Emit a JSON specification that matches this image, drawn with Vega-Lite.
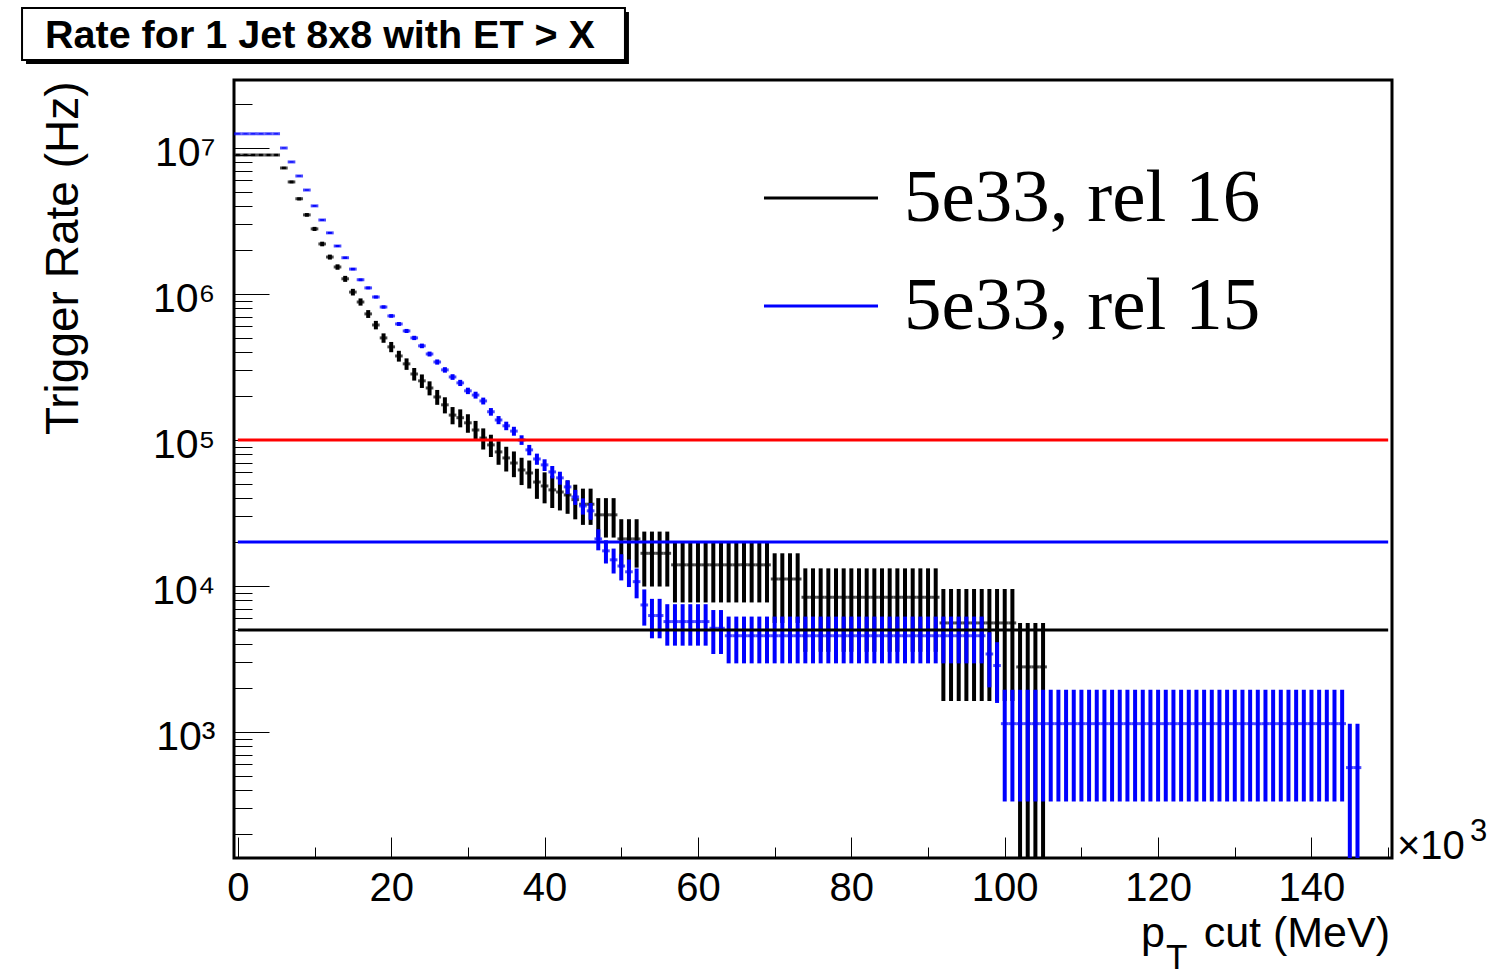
{
  "$schema": "https://vega.github.io/schema/vega-lite/v6.json",
  "width": 1158,
  "height": 778,
  "autosize": {"type": "none"},
  "padding": {"left": 234, "top": 80, "right": 109, "bottom": 119},
  "background": "white",
  "config": {
    "font": "Liberation Sans",
    "view": {"stroke": "black", "strokeWidth": 3},
    "axis": {"domain": false, "grid": false, "tickColor": "black", "tickWidth": 1, "labelColor": "black", "titleColor": "black", "labelFont": "Liberation Sans", "labelFontSize": 41, "titleFont": "Liberation Sans", "titleFontWeight": "normal"},
    "legend": {"orient": "none", "legendX": 528, "legendY": 59, "padding": 0, "symbolType": "stroke", "symbolSize": 13000, "symbolStrokeWidth": 3, "labelFont": "Liberation Serif", "labelFontSize": 75, "labelColor": "black", "labelOffset": 24, "rowPadding": 11, "labelLimit": 0, "title": null}
  },
  "datasets": {
    "r16": [
      {"c":0,"v":8950000,"lo":8790000,"hi":9110000},{"c":1,"v":8950000,"lo":8790000,"hi":9110000},{"c":2,"v":8950000,"lo":8790000,"hi":9110000},{"c":3,"v":8950000,"lo":8790000,"hi":9110000},{"c":4,"v":8950000,"lo":8790000,"hi":9110000},{"c":5,"v":8950000,"lo":8790000,"hi":9110000},
      {"c":6,"v":7300000,"lo":7160000,"hi":7440000},{"c":7,"v":5850000,"lo":5720000,"hi":5980000},{"c":8,"v":4480000,"lo":4370000,"hi":4590000},{"c":9,"v":3480000,"lo":3380000,"hi":3580000},{"c":10,"v":2790000,"lo":2700000,"hi":2880000},
      {"c":11,"v":2200000,"lo":2120000,"hi":2280000},{"c":12,"v":1790000,"lo":1720000,"hi":1860000},{"c":13,"v":1530000,"lo":1465000,"hi":1595000},{"c":14,"v":1270000,"lo":1210000,"hi":1330000},{"c":15,"v":1030000,"lo":976000,"hi":1084000},
      {"c":16,"v":882000,"lo":832000,"hi":932000},{"c":17,"v":730000,"lo":685000,"hi":775000},{"c":18,"v":613000,"lo":572000,"hi":654000},{"c":19,"v":500000,"lo":463000,"hi":537000},{"c":20,"v":434000,"lo":399000,"hi":469000},
      {"c":21,"v":376000,"lo":344000,"hi":408000},{"c":22,"v":332000,"lo":302000,"hi":362000},{"c":23,"v":283000,"lo":255000,"hi":311000},{"c":24,"v":254000,"lo":227000,"hi":281000},{"c":25,"v":227000,"lo":202000,"hi":252000},
      {"c":26,"v":197000,"lo":174000,"hi":220000},{"c":27,"v":174000,"lo":152000,"hi":196000},{"c":28,"v":148000,"lo":128000,"hi":168000},{"c":29,"v":142000,"lo":122000,"hi":162000},{"c":30,"v":131000,"lo":112000,"hi":150000},
      {"c":31,"v":117000,"lo":98900,"hi":135000},{"c":32,"v":103000,"lo":86000,"hi":120000},{"c":33,"v":92500,"lo":76400,"hi":108600},{"c":34,"v":82800,"lo":67600,"hi":98000},{"c":35,"v":75300,"lo":60800,"hi":89800},
      {"c":36,"v":69500,"lo":55600,"hi":83400},{"c":37,"v":62300,"lo":49100,"hi":75500},{"c":38,"v":59400,"lo":46500,"hi":72300},{"c":39,"v":51500,"lo":39500,"hi":63500},{"c":40,"v":48400,"lo":36800,"hi":60000},
      {"c":41,"v":45500,"lo":34200,"hi":56800},{"c":42,"v":44000,"lo":32900,"hi":55100},{"c":43,"v":42000,"lo":31200,"hi":52800},{"c":44,"v":39000,"lo":28600,"hi":49400},{"c":45,"v":36300,"lo":26200,"hi":46400},
      {"c":46,"v":36300,"lo":26200,"hi":46400},{"c":47,"v":30700,"lo":21450,"hi":39950},{"c":48,"v":30700,"lo":21450,"hi":39950},{"c":49,"v":30700,"lo":21450,"hi":39950},
      {"c":50,"v":21000,"lo":13350,"hi":28650},{"c":51,"v":21000,"lo":13350,"hi":28650},{"c":52,"v":21000,"lo":13350,"hi":28650},
      {"c":53,"v":16740,"lo":9910,"hi":23570},{"c":54,"v":16740,"lo":9910,"hi":23570},{"c":55,"v":16740,"lo":9910,"hi":23570},{"c":56,"v":16740,"lo":9910,"hi":23570},
      {"c":57,"v":13950,"lo":7710,"hi":20190},{"c":58,"v":13950,"lo":7710,"hi":20190},{"c":59,"v":13950,"lo":7710,"hi":20190},{"c":60,"v":13950,"lo":7710,"hi":20190},{"c":61,"v":13950,"lo":7710,"hi":20190},{"c":62,"v":13950,"lo":7710,"hi":20190},{"c":63,"v":13950,"lo":7710,"hi":20190},{"c":64,"v":13950,"lo":7710,"hi":20190},{"c":65,"v":13950,"lo":7710,"hi":20190},{"c":66,"v":13950,"lo":7710,"hi":20190},{"c":67,"v":13950,"lo":7710,"hi":20190},{"c":68,"v":13950,"lo":7710,"hi":20190},{"c":69,"v":13950,"lo":7710,"hi":20190},
      {"c":70,"v":11160,"lo":5580,"hi":16740},{"c":71,"v":11160,"lo":5580,"hi":16740},{"c":72,"v":11160,"lo":5580,"hi":16740},{"c":73,"v":11160,"lo":5580,"hi":16740},
      {"c":74,"v":8370,"lo":3540,"hi":13200},{"c":75,"v":8370,"lo":3540,"hi":13200},{"c":76,"v":8370,"lo":3540,"hi":13200},{"c":77,"v":8370,"lo":3540,"hi":13200},{"c":78,"v":8370,"lo":3540,"hi":13200},{"c":79,"v":8370,"lo":3540,"hi":13200},{"c":80,"v":8370,"lo":3540,"hi":13200},{"c":81,"v":8370,"lo":3540,"hi":13200},{"c":82,"v":8370,"lo":3540,"hi":13200},{"c":83,"v":8370,"lo":3540,"hi":13200},{"c":84,"v":8370,"lo":3540,"hi":13200},{"c":85,"v":8370,"lo":3540,"hi":13200},{"c":86,"v":8370,"lo":3540,"hi":13200},{"c":87,"v":8370,"lo":3540,"hi":13200},{"c":88,"v":8370,"lo":3540,"hi":13200},{"c":89,"v":8370,"lo":3540,"hi":13200},{"c":90,"v":8370,"lo":3540,"hi":13200},{"c":91,"v":8370,"lo":3540,"hi":13200},
      {"c":92,"v":5580,"lo":1630,"hi":9530},{"c":93,"v":5580,"lo":1630,"hi":9530},{"c":94,"v":5580,"lo":1630,"hi":9530},{"c":95,"v":5580,"lo":1630,"hi":9530},{"c":96,"v":5580,"lo":1630,"hi":9530},{"c":97,"v":5580,"lo":1630,"hi":9530},{"c":98,"v":5580,"lo":1630,"hi":9530},{"c":99,"v":5580,"lo":1630,"hi":9530},{"c":100,"v":5580,"lo":1630,"hi":9530},{"c":101,"v":5580,"lo":1630,"hi":9530},
      {"c":102,"v":2790,"lo":1,"hi":5580},{"c":103,"v":2790,"lo":1,"hi":5580},{"c":104,"v":2790,"lo":1,"hi":5580},{"c":105,"v":2790,"lo":1,"hi":5580}
    ],
    "r15": [
      {"c":0,"v":12500000,"lo":12416000,"hi":12584000},{"c":1,"v":12500000,"lo":12416000,"hi":12584000},{"c":2,"v":12500000,"lo":12416000,"hi":12584000},{"c":3,"v":12500000,"lo":12416000,"hi":12584000},{"c":4,"v":12500000,"lo":12416000,"hi":12584000},{"c":5,"v":12500000,"lo":12416000,"hi":12584000},
      {"c":6,"v":10000000,"lo":9925000,"hi":10075000},{"c":7,"v":8020000,"lo":7950000,"hi":8090000},{"c":8,"v":6430000,"lo":6370000,"hi":6490000},{"c":9,"v":5150000,"lo":5100000,"hi":5200000},{"c":10,"v":4010000,"lo":3960000,"hi":4060000},
      {"c":11,"v":3210000,"lo":3170000,"hi":3250000},{"c":12,"v":2620000,"lo":2580000,"hi":2660000},{"c":13,"v":2130000,"lo":2095000,"hi":2165000},{"c":14,"v":1770000,"lo":1738000,"hi":1802000},{"c":15,"v":1480000,"lo":1451000,"hi":1509000},
      {"c":16,"v":1250000,"lo":1223000,"hi":1277000},{"c":17,"v":1100000,"lo":1075000,"hi":1125000},{"c":18,"v":953000,"lo":930000,"hi":976000},{"c":19,"v":814000,"lo":793000,"hi":836000},{"c":20,"v":707000,"lo":687000,"hi":727000},
      {"c":21,"v":623000,"lo":604000,"hi":642000},{"c":22,"v":558000,"lo":540000,"hi":576000},{"c":23,"v":500000,"lo":483000,"hi":517000},{"c":24,"v":441000,"lo":425000,"hi":457000},{"c":25,"v":388000,"lo":373000,"hi":403000},
      {"c":26,"v":342000,"lo":328000,"hi":356000},{"c":27,"v":302000,"lo":289000,"hi":315000},{"c":28,"v":270000,"lo":258000,"hi":282000},{"c":29,"v":246000,"lo":234000,"hi":258000},{"c":30,"v":217000,"lo":206000,"hi":228000},
      {"c":31,"v":203000,"lo":192000,"hi":214000},{"c":32,"v":185000,"lo":175000,"hi":195000},{"c":33,"v":156000,"lo":146600,"hi":165400},{"c":34,"v":137000,"lo":128200,"hi":145800},{"c":35,"v":125000,"lo":116600,"hi":133400},
      {"c":36,"v":115000,"lo":106900,"hi":123100},{"c":37,"v":100000,"lo":92500,"hi":107600},{"c":38,"v":85500,"lo":78500,"hi":92500},{"c":39,"v":74100,"lo":67600,"hi":80600},{"c":40,"v":67500,"lo":61300,"hi":73700},
      {"c":41,"v":60400,"lo":54500,"hi":66300},{"c":42,"v":55000,"lo":49400,"hi":60600},{"c":43,"v":47700,"lo":42500,"hi":52900},{"c":44,"v":40700,"lo":35900,"hi":45500},{"c":45,"v":35300,"lo":30800,"hi":39800},
      {"c":46,"v":32700,"lo":28400,"hi":37000},{"c":47,"v":21000,"lo":17540,"hi":24460},{"c":48,"v":17400,"lo":14250,"hi":20550},{"c":49,"v":15100,"lo":12170,"hi":18030},{"c":50,"v":13700,"lo":10910,"hi":16490},
      {"c":51,"v":12500,"lo":9830,"hi":15170},{"c":52,"v":10700,"lo":8230,"hi":13170},{"c":53,"v":7410,"lo":5350,"hi":9470},{"c":54,"v":6270,"lo":4380,"hi":8160},{"c":55,"v":6270,"lo":4380,"hi":8160},
      {"c":56,"v":5700,"lo":3900,"hi":7500},{"c":57,"v":5700,"lo":3900,"hi":7500},{"c":58,"v":5700,"lo":3900,"hi":7500},{"c":59,"v":5700,"lo":3900,"hi":7500},{"c":60,"v":5700,"lo":3900,"hi":7500},{"c":61,"v":5700,"lo":3900,"hi":7500},
      {"c":62,"v":5130,"lo":3420,"hi":6840},{"c":63,"v":5130,"lo":3420,"hi":6840},
      {"c":64,"v":4560,"lo":2950,"hi":6170},{"c":65,"v":4560,"lo":2950,"hi":6170},{"c":66,"v":4560,"lo":2950,"hi":6170},{"c":67,"v":4560,"lo":2950,"hi":6170},{"c":68,"v":4560,"lo":2950,"hi":6170},{"c":69,"v":4560,"lo":2950,"hi":6170},{"c":70,"v":4560,"lo":2950,"hi":6170},{"c":71,"v":4560,"lo":2950,"hi":6170},{"c":72,"v":4560,"lo":2950,"hi":6170},{"c":73,"v":4560,"lo":2950,"hi":6170},{"c":74,"v":4560,"lo":2950,"hi":6170},{"c":75,"v":4560,"lo":2950,"hi":6170},{"c":76,"v":4560,"lo":2950,"hi":6170},{"c":77,"v":4560,"lo":2950,"hi":6170},{"c":78,"v":4560,"lo":2950,"hi":6170},{"c":79,"v":4560,"lo":2950,"hi":6170},{"c":80,"v":4560,"lo":2950,"hi":6170},{"c":81,"v":4560,"lo":2950,"hi":6170},{"c":82,"v":4560,"lo":2950,"hi":6170},{"c":83,"v":4560,"lo":2950,"hi":6170},{"c":84,"v":4560,"lo":2950,"hi":6170},{"c":85,"v":4560,"lo":2950,"hi":6170},{"c":86,"v":4560,"lo":2950,"hi":6170},{"c":87,"v":4560,"lo":2950,"hi":6170},{"c":88,"v":4560,"lo":2950,"hi":6170},{"c":89,"v":4560,"lo":2950,"hi":6170},{"c":90,"v":4560,"lo":2950,"hi":6170},{"c":91,"v":4560,"lo":2950,"hi":6170},{"c":92,"v":4560,"lo":2950,"hi":6170},{"c":93,"v":4560,"lo":2950,"hi":6170},{"c":94,"v":4560,"lo":2950,"hi":6170},{"c":95,"v":4560,"lo":2950,"hi":6170},{"c":96,"v":4560,"lo":2950,"hi":6170},{"c":97,"v":4560,"lo":2950,"hi":6170},
      {"c":98,"v":3420,"lo":2020,"hi":4820},{"c":99,"v":2850,"lo":1580,"hi":4120},
      {"c":100,"v":1140,"lo":334,"hi":1946},{"c":101,"v":1140,"lo":334,"hi":1946},{"c":102,"v":1140,"lo":334,"hi":1946},{"c":103,"v":1140,"lo":334,"hi":1946},{"c":104,"v":1140,"lo":334,"hi":1946},{"c":105,"v":1140,"lo":334,"hi":1946},{"c":106,"v":1140,"lo":334,"hi":1946},{"c":107,"v":1140,"lo":334,"hi":1946},{"c":108,"v":1140,"lo":334,"hi":1946},{"c":109,"v":1140,"lo":334,"hi":1946},
      {"c":110,"v":1140,"lo":334,"hi":1946},{"c":111,"v":1140,"lo":334,"hi":1946},{"c":112,"v":1140,"lo":334,"hi":1946},{"c":113,"v":1140,"lo":334,"hi":1946},{"c":114,"v":1140,"lo":334,"hi":1946},{"c":115,"v":1140,"lo":334,"hi":1946},{"c":116,"v":1140,"lo":334,"hi":1946},{"c":117,"v":1140,"lo":334,"hi":1946},{"c":118,"v":1140,"lo":334,"hi":1946},{"c":119,"v":1140,"lo":334,"hi":1946},
      {"c":120,"v":1140,"lo":334,"hi":1946},{"c":121,"v":1140,"lo":334,"hi":1946},{"c":122,"v":1140,"lo":334,"hi":1946},{"c":123,"v":1140,"lo":334,"hi":1946},{"c":124,"v":1140,"lo":334,"hi":1946},{"c":125,"v":1140,"lo":334,"hi":1946},{"c":126,"v":1140,"lo":334,"hi":1946},{"c":127,"v":1140,"lo":334,"hi":1946},{"c":128,"v":1140,"lo":334,"hi":1946},{"c":129,"v":1140,"lo":334,"hi":1946},
      {"c":130,"v":1140,"lo":334,"hi":1946},{"c":131,"v":1140,"lo":334,"hi":1946},{"c":132,"v":1140,"lo":334,"hi":1946},{"c":133,"v":1140,"lo":334,"hi":1946},{"c":134,"v":1140,"lo":334,"hi":1946},{"c":135,"v":1140,"lo":334,"hi":1946},{"c":136,"v":1140,"lo":334,"hi":1946},{"c":137,"v":1140,"lo":334,"hi":1946},{"c":138,"v":1140,"lo":334,"hi":1946},{"c":139,"v":1140,"lo":334,"hi":1946},
      {"c":140,"v":1140,"lo":334,"hi":1946},{"c":141,"v":1140,"lo":334,"hi":1946},{"c":142,"v":1140,"lo":334,"hi":1946},{"c":143,"v":1140,"lo":334,"hi":1946},{"c":144,"v":1140,"lo":334,"hi":1946},
      {"c":145,"v":570,"lo":1,"hi":1140},{"c":146,"v":570,"lo":1,"hi":1140}
    ]
  },
  "layer": [
    {
      "data": {"name": "r16"},
      "mark": {"type": "rule", "strokeWidth": 4, "clip": true},
      "encoding": {
        "x": {"field": "c", "type": "quantitative", "title": null, "scale": {"domain": [-0.5, 150.5], "nice": false, "zero": false},
              "axis": {"title": null, "values": [0,5,10,15,20,25,30,35,40,45,50,55,60,65,70,75,80,85,90,95,100,105,110,115,120,125,130,135,140,145,150],
                       "labelExpr": "(datum.value % 20 === 0 && datum.value <= 140) ? datum.label : ''",
                       "tickSize": {"condition": {"test": "datum.value % 20 === 0", "value": -21}, "value": -11},
                       "labelPadding": 31, "labelFontSize": 40, "labelFlush": false}},
        "y": {"field": "lo", "type": "quantitative", "title": "Trigger Rate (Hz)", "scale": {"type": "log", "domain": [137, 29200000], "nice": false},
              "axis": {"title": "Trigger Rate (Hz)", "titleFontSize": 46, "titleX": -157, "titleY": 1, "titleAlign": "right", "titleAngle": -90, "titleBaseline": "alphabetic",
                       "values": [200,300,400,500,600,700,800,900,1000,2000,3000,4000,5000,6000,7000,8000,9000,10000,20000,30000,40000,50000,60000,70000,80000,90000,100000,200000,300000,400000,500000,600000,700000,800000,900000,1000000,2000000,3000000,4000000,5000000,6000000,7000000,8000000,9000000,10000000,20000000],
                       "labelExpr": "indexof([1000,10000,100000,1000000,10000000], datum.value) >= 0 ? '10' + ['³','⁴','⁵','⁶','⁷'][indexof([1000,10000,100000,1000000,10000000], datum.value)] : ''",
                       "tickSize": {"condition": {"test": "indexof([1000,10000,100000,1000000,10000000], datum.value) >= 0", "value": -35}, "value": -18},
                       "labelPadding": 54, "labelOffset": 6, "labelFlush": false}},
        "y2": {"field": "hi"},
        "color": {"datum": "5e33, rel 16", "type": "nominal", "scale": {"domain": ["5e33, rel 16", "5e33, rel 15"], "range": ["black", "#0000ff"]}}
      }
    },
    {
      "data": {"name": "r16"},
      "mark": {"type": "tick", "orient": "horizontal", "size": 7.67, "thickness": 3, "color": "black", "clip": true},
      "encoding": {
        "x": {"field": "c", "type": "quantitative", "title": null},
        "y": {"field": "v", "type": "quantitative", "title": "Trigger Rate (Hz)"}
      }
    },
    {
      "data": {"name": "r15"},
      "mark": {"type": "rule", "strokeWidth": 4, "clip": true},
      "encoding": {
        "x": {"field": "c", "type": "quantitative", "title": null},
        "y": {"field": "lo", "type": "quantitative", "title": "Trigger Rate (Hz)"},
        "y2": {"field": "hi"},
        "color": {"datum": "5e33, rel 15", "type": "nominal"}
      }
    },
    {
      "data": {"name": "r15"},
      "mark": {"type": "tick", "orient": "horizontal", "size": 7.67, "thickness": 3, "color": "#0000ff", "clip": true},
      "encoding": {
        "x": {"field": "c", "type": "quantitative", "title": null},
        "y": {"field": "v", "type": "quantitative", "title": "Trigger Rate (Hz)"}
      }
    },
    {
      "data": {"values": [{}]},
      "mark": {"type": "rule", "color": "#ff0000", "strokeWidth": 3},
      "encoding": {"x": {"datum": 0, "title": null}, "x2": {"datum": 150}, "y": {"datum": 100000, "title": "Trigger Rate (Hz)"}}
    },
    {
      "data": {"values": [{}]},
      "mark": {"type": "rule", "color": "#0000ff", "strokeWidth": 3},
      "encoding": {"x": {"datum": 0, "title": null}, "x2": {"datum": 150}, "y": {"datum": 20000, "title": "Trigger Rate (Hz)"}}
    },
    {
      "data": {"values": [{}]},
      "mark": {"type": "rule", "color": "black", "strokeWidth": 3},
      "encoding": {"x": {"datum": 0, "title": null}, "x2": {"datum": 150}, "y": {"datum": 5000, "title": "Trigger Rate (Hz)"}}
    },
    {
      "data": {"values": [{}]},
      "mark": {"type": "rect", "color": "black"},
      "encoding": {"x": {"datum": -27.62, "title": null}, "x2": {"datum": 51.0}, "y": {"datum": 85500000, "title": "Trigger Rate (Hz)"}, "y2": {"datum": 37600000}}
    },
    {
      "data": {"values": [{}]},
      "mark": {"type": "rect", "fill": "white", "stroke": "black", "strokeWidth": 2},
      "encoding": {"x": {"datum": -28.14, "title": null}, "x2": {"datum": 50.48}, "y": {"datum": 91000000, "title": "Trigger Rate (Hz)"}, "y2": {"datum": 40100000}}
    },
    {
      "data": {"values": [{}]},
      "mark": {"type": "text", "text": "Rate for 1 Jet 8x8 with ET > X", "font": "Liberation Sans", "fontWeight": "bold", "fontSize": 39.5, "align": "left", "baseline": "alphabetic", "dx": 23, "dy": -12, "color": "black"},
      "encoding": {"x": {"datum": -28.14, "title": null}, "y": {"datum": 40100000, "title": "Trigger Rate (Hz)"}}
    },
    {
      "data": {"values": [{}]},
      "mark": {"type": "text", "text": "×10", "fontSize": 40, "align": "left", "baseline": "alphabetic", "dx": 5, "dy": 1, "color": "black"},
      "encoding": {"x": {"datum": 150.5, "title": null}, "y": {"datum": 137, "title": "Trigger Rate (Hz)"}}
    },
    {
      "data": {"values": [{}]},
      "mark": {"type": "text", "text": "3", "fontSize": 31, "align": "left", "baseline": "alphabetic", "dx": 78, "dy": -17, "color": "black"},
      "encoding": {"x": {"datum": 150.5, "title": null}, "y": {"datum": 137, "title": "Trigger Rate (Hz)"}}
    },
    {
      "data": {"values": [{}]},
      "mark": {"type": "text", "text": "p", "fontSize": 43, "align": "left", "baseline": "alphabetic", "dx": -251, "dy": 89, "color": "black"},
      "encoding": {"x": {"datum": 150.5, "title": null}, "y": {"datum": 137, "title": "Trigger Rate (Hz)"}}
    },
    {
      "data": {"values": [{}]},
      "mark": {"type": "text", "text": "T", "fontSize": 35, "align": "left", "baseline": "alphabetic", "dx": -226, "dy": 111, "color": "black"},
      "encoding": {"x": {"datum": 150.5, "title": null}, "y": {"datum": 137, "title": "Trigger Rate (Hz)"}}
    },
    {
      "data": {"values": [{}]},
      "mark": {"type": "text", "text": "cut (MeV)", "fontSize": 43, "align": "right", "baseline": "alphabetic", "dx": -2, "dy": 89, "color": "black"},
      "encoding": {"x": {"datum": 150.5, "title": null}, "y": {"datum": 137, "title": "Trigger Rate (Hz)"}}
    }
  ]
}
